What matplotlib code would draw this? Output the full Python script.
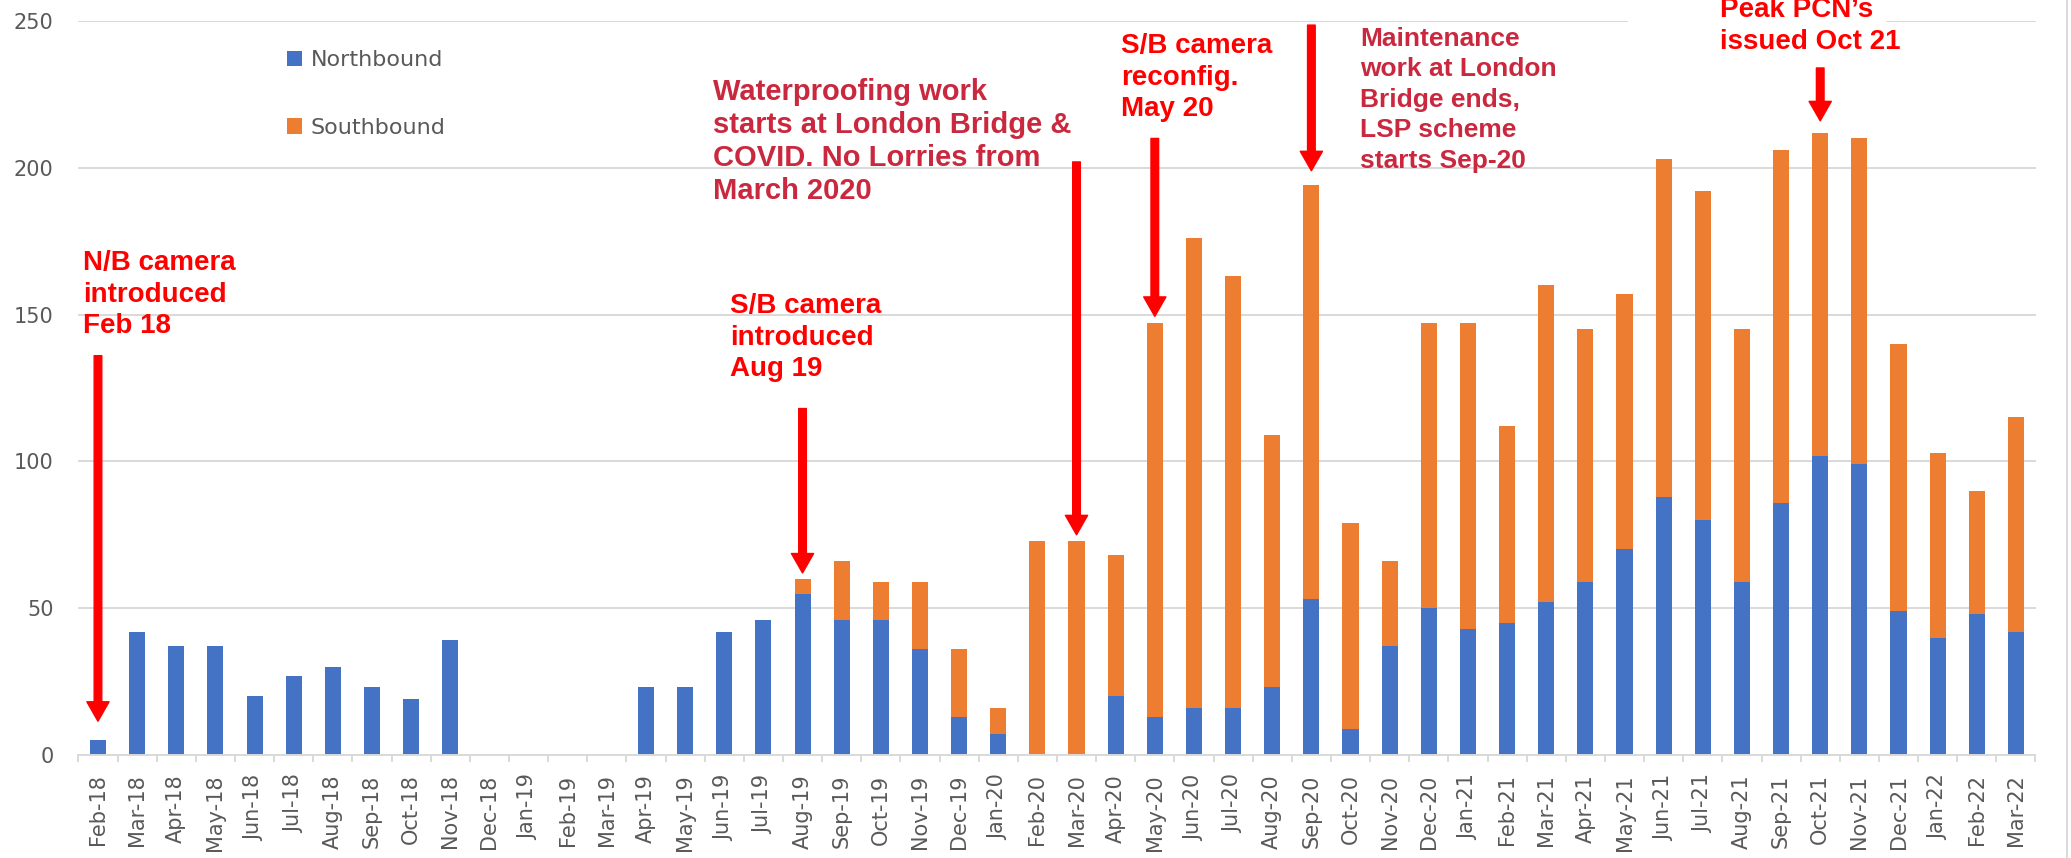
import matplotlib
matplotlib.use("Agg")
import matplotlib.pyplot as plt
from matplotlib.patches import Rectangle
from matplotlib.lines import Line2D
import numpy as np

months = ["Feb-18", "Mar-18", "Apr-18", "May-18", "Jun-18", "Jul-18", "Aug-18", "Sep-18",
          "Oct-18", "Nov-18", "Dec-18", "Jan-19", "Feb-19", "Mar-19", "Apr-19", "May-19",
          "Jun-19", "Jul-19", "Aug-19", "Sep-19", "Oct-19", "Nov-19", "Dec-19", "Jan-20",
          "Feb-20", "Mar-20", "Apr-20", "May-20", "Jun-20", "Jul-20", "Aug-20", "Sep-20",
          "Oct-20", "Nov-20", "Dec-20", "Jan-21", "Feb-21", "Mar-21", "Apr-21", "May-21",
          "Jun-21", "Jul-21", "Aug-21", "Sep-21", "Oct-21", "Nov-21", "Dec-21", "Jan-22",
          "Feb-22", "Mar-22"]

northbound = [5, 42, 37, 37, 20, 27, 30, 23, 19, 39, 0, 0, 0, 0, 23, 23,
              42, 46, 55, 46, 46, 36, 13, 7, 0, 0, 20, 13, 16, 16, 23, 53,
              9, 37, 50, 43, 45, 52, 59, 70, 88, 80, 59, 86, 102, 99, 49, 40,
              48, 42]

southbound = [0, 0, 0, 0, 0, 0, 0, 0, 0, 0, 0, 0, 0, 0, 0, 0,
              0, 0, 5, 20, 13, 23, 23, 9, 73, 73, 48, 134, 160, 147, 86, 141,
              70, 29, 97, 104, 67, 108, 86, 87, 115, 112, 86, 120, 110, 111, 91, 63,
              42, 73]

yticks = [0, 50, 100, 150, 200, 250]

# arrows: month, start value, gap above bar top
arrow_months = ["Feb-18", "Aug-19", "Mar-20", "May-20", "Sep-20", "Oct-21"]
arrow_starts = [136, 118, 202, 210, 248.6, 234]
arrow_gaps = [6.5, 2, 2, 2.4, 5, 4]

W, H = 2071, 858
fig = plt.figure(figsize=(W / 100, H / 100), dpi=100)
ax = fig.add_axes([78.4 / W, 1 - 755 / H, (2035.5 - 78.4) / W, (755 - 21) / H])

x = np.arange(len(months))
nb = np.array(northbound)
sb = np.array(southbound)
ax.bar(x, nb, width=0.41, color="#4472C4", label="Northbound", zorder=2)
ax.bar(x, sb, width=0.41, bottom=nb, color="#ED7D31", label="Southbound", zorder=2)

ax.set_xlim(-0.5, len(months) - 0.5)
ax.set_ylim(0, 250)
ax.set_yticks(yticks)
ax.yaxis.grid(True, color="#d9d9d9", lw=1.4, zorder=0)
ax.set_axisbelow(True)
for s in ["top", "right", "left"]:
    ax.spines[s].set_visible(False)
ax.spines["bottom"].set_color("#d9d9d9")
ax.spines["bottom"].set_linewidth(1.4)

ax.set_xticks(x)
ax.set_xticklabels(months, rotation=90)
ax.set_xticks(np.arange(-0.5, len(months)), minor=True)
ax.tick_params(axis="x", which="major", length=0, pad=14, labelsize=15, labelcolor="#595959")
ax.tick_params(axis="x", which="minor", length=5, width=1.4, color="#d9d9d9")
ax.tick_params(axis="y", length=0, pad=18, labelsize=15, labelcolor="#595959")

leg = ax.legend(loc="upper left", bbox_to_anchor=(287 / W, 1 - 50 / H),
                bbox_transform=fig.transFigure, frameon=False, fontsize=16,
                handlelength=0.68, handleheight=0.68, handletextpad=0.4,
                labelspacing=2.15, borderpad=0, borderaxespad=0)
for t in leg.get_texts():
    t.set_color("#595959")

# arrows
totals = nb + sb
for m, start, gap in zip(arrow_months, arrow_starts, arrow_gaps):
    i = months.index(m)
    ax.annotate("", xy=(i, totals[i] + gap), xytext=(i, start),
                arrowprops=dict(color="#FF0000", width=5.5, headwidth=16,
                                headlength=14, shrink=0), zorder=5)

# white patch behind the peak label
fig.patches.append(Rectangle((1628 / W, 1 - 60 / H), (1885 - 1628) / W, 60 / H,
                             transform=fig.transFigure, color="white", zorder=1))
# right frame line
fig.add_artist(Line2D([2067 / W, 2067 / W], [0, 1], color="#d9d9d9", lw=1.4,
                      transform=fig.transFigure))

font = "Liberation Sans"
red = "#FF0000"
crimson = "#C9283E"


def label(px, py, s, color, size, ls):
    fig.text(px / W, 1 - py / H, s, ha="left", va="top", color=color,
             fontsize=size, fontweight="bold", family=font, linespacing=ls, zorder=3)


label(83, 250, "N/B camera\nintroduced\nFeb 18", red, 20, 1.28)
label(730, 293, "S/B camera\nintroduced\nAug 19", red, 20, 1.28)
label(713, 78, "Waterproofing work\nstarts at London Bridge &\nCOVID. No Lorries from\nMarch 2020",
      crimson, 21, 1.22)
label(1121, 33, "S/B camera\nreconfig.\nMay 20", red, 20, 1.28)
label(1360, 27, "Maintenance\nwork at London\nBridge ends,\nLSP scheme\nstarts Sep-20",
      crimson, 19, 1.34)
label(1720, -3, "Peak PCN\u2019s\nissued Oct 21", red, 20, 1.28)

fig.savefig("out.png", dpi=100)
